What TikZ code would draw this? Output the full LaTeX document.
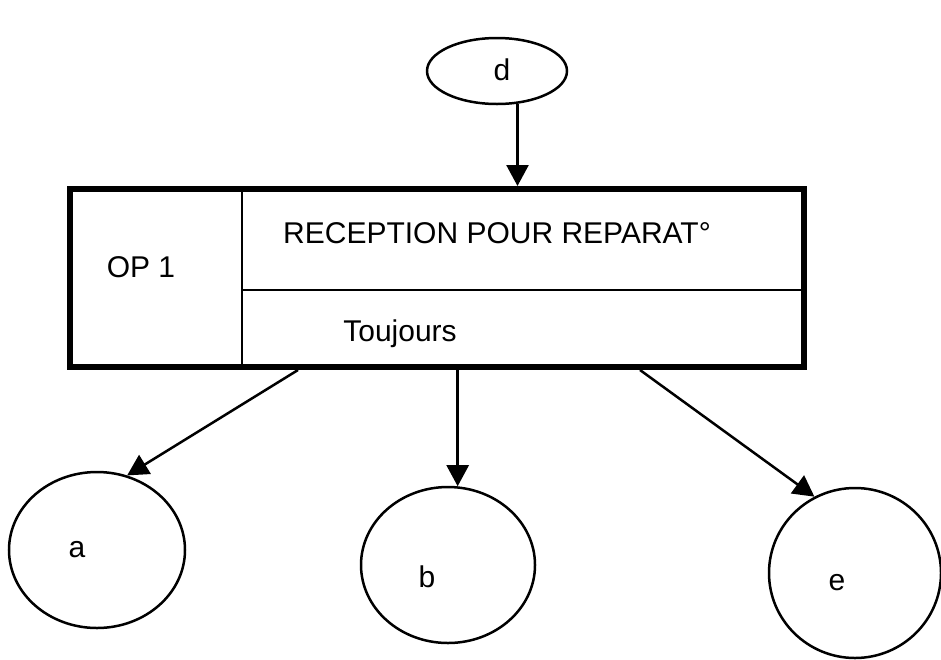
\documentclass[tikz,border=0pt]{standalone}
\usepackage{fontspec}
\setmainfont{Liberation Sans}
\usetikzlibrary{shapes.geometric,arrows.meta,calc}
\tikzset{
  bubble/.style={draw, line width=2.5pt, ellipse, inner sep=0pt},
  conn/.style={line width=2.5pt, -{Triangle[length=21pt,width=22pt]}},
  lbl/.style={font=\fontsize{30}{34}\selectfont, anchor=base, inner sep=0pt},
  opbox/.style={draw, line width=6pt, rectangle, inner sep=0pt},
  divider/.style={line width=2.5pt},
}
\begin{document}
\begin{tikzpicture}[x=1pt,y=-1pt]
\useasboundingbox (0,0) rectangle (941,659);
% box
\node[opbox, minimum width=734pt, minimum height=178pt] (box) at (437,278) {};
\draw[divider] (242,189) -- (242,367);
\draw[divider] (242,290) -- (801,290);
\node[lbl] (op) at (141,277) {OP 1};
\node[lbl] (title) at (497,243) {RECEPTION POUR REPARAT°};
\node[lbl] (cond) at (400,341) {Toujours};
% ellipses
\node[bubble, minimum width=140pt, minimum height=66pt] (d) at (497,71) {};
\node[lbl] (dl) at (502,80) {d};
\node[bubble, minimum width=176pt, minimum height=156pt] (a) at (97,550) {};
\node[lbl] (al) at (77,557) {a};
\node[bubble, minimum width=174pt, minimum height=156pt] (b) at (448,565) {};
\node[lbl] (bl) at (427,587) {b};
\node[bubble, minimum width=172pt, minimum height=170pt] (e) at (855,573) {};
\node[lbl] (el) at (837,590) {e};
% connectors
\draw[conn] (d.-58) -- (d.-58 |- box.north);
\draw[conn] ($(box.south west)+(231,0)$) -- (a.68);
\draw[conn] (b.83 |- box.south) -- (b.83);
\draw[conn] ($(box.south west)+(573,0)$) -- (e.118);
\end{tikzpicture}
\end{document}
